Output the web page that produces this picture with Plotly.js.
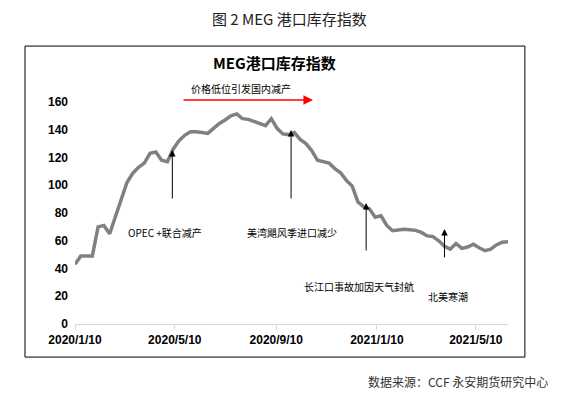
<!DOCTYPE html>
<html>
<head>
<meta charset="utf-8">
<script src="https://cdn.plot.ly/plotly-3.0.1.min.js"></script>
<style>
html,body{margin:0;padding:0;background:#fff;}
#chart{width:565px;height:396px;}
</style>
</head>
<body>
<div id="chart"></div>
<script>
// Weekly dates (Fridays)
const dates = [
 '2020-01-10','2020-01-17','2020-01-24','2020-01-31','2020-02-07','2020-02-14','2020-02-21','2020-02-28',
 '2020-03-06','2020-03-13','2020-03-20','2020-03-27','2020-04-03','2020-04-10','2020-04-17','2020-04-24',
 '2020-05-01','2020-05-08','2020-05-15','2020-05-22','2020-05-29','2020-06-05','2020-06-12','2020-06-19',
 '2020-06-26','2020-07-03','2020-07-10','2020-07-17','2020-07-24','2020-07-31','2020-08-07','2020-08-14',
 '2020-08-21','2020-08-28','2020-09-04','2020-09-11','2020-09-18','2020-09-25','2020-10-02','2020-10-09',
 '2020-10-16','2020-10-23','2020-10-30','2020-11-06','2020-11-13','2020-11-20','2020-11-27','2020-12-04',
 '2020-12-11','2020-12-18','2020-12-25','2021-01-01','2021-01-08','2021-01-15','2021-01-22','2021-01-29',
 '2021-02-05','2021-02-12','2021-02-19','2021-02-26','2021-03-05','2021-03-12','2021-03-19','2021-03-26',
 '2021-04-02','2021-04-09','2021-04-16','2021-04-23','2021-04-30','2021-05-07','2021-05-14','2021-05-21',
 '2021-05-28','2021-06-04','2021-06-11','2021-06-18'
];
// MEG port inventory index
const inventory = [
 43, 49, 49, 49, 70, 71, 65, 78,
 90, 102, 108.6, 113, 116, 123, 124, 118,
 117, 126, 132, 136, 138.5, 138.6, 138, 137.4,
 141, 144.6, 147, 150, 151.4, 148, 147.5, 146,
 145, 143, 148, 141, 137, 136.5, 138, 133,
 130, 125, 118, 117, 116, 112, 109, 103.5,
 99.5, 88, 84.5, 83, 77, 78, 71, 67.2,
 68, 68.3, 68, 67.5, 66, 63.5, 63, 60,
 56, 54, 58, 54.5, 55.5, 57.5, 55, 52.8,
 54, 57, 59, 59.3
];
const tickDates = ['2020-01-10','2020-05-10','2020-09-10','2021-01-10','2021-05-10'];
const tickLabels = ['2020/1/10','2020/5/10','2020/9/10','2021/1/10','2021/5/10'];
const yTicks = [0,20,40,60,80,100,120,140,160];

const chartTitle = 'MEG港口库存指数';
const figTitle = '图 2 MEG 港口库存指数';
const sourceText = '数据来源：CCF 永安期货研究中心';

// arrow events: [tip date, tip value, tail offset px, label, label x paper, label y paper]
const events = [
  ['2020-05-07', 125.4, 50, 'OPEC +联合减产', 0.208, 0.414],
  ['2020-09-28', 139.8, 70, '美湾飓风季进口减少', 0.501, 0.414],
  ['2020-12-28', 87.2, 49, '长江口事故加因天气封航', 0.655, 0.171],
  ['2021-04-02', 68.5, 30, '北美寒潮', 0.861, 0.126]
];

const CJK = '"Noto Sans CJK SC", "Microsoft YaHei", sans-serif';

const annotations = [];
events.forEach(e => {
  annotations.push({
    x: e[0], y: e[1], xref: 'x', yref: 'y', text: '', showarrow: true,
    ax: 0, ay: e[2], arrowhead: 2, arrowsize: 1.3, arrowwidth: 1, arrowcolor: '#000', standoff: 0
  });
  annotations.push({
    x: e[4], y: e[5], xref: 'paper', yref: 'paper', text: e[3], showarrow: false,
    font: {family: CJK, size: 10, color: '#000'}, xanchor: 'center', yanchor: 'middle'
  });
});
// red arrow (paper coords, above plot area)
annotations.push({
  x: 0.5497, y: 1.009, xref: 'paper', yref: 'paper',
  ax: -131, ay: 0, text: '', showarrow: true,
  arrowhead: 2, arrowsize: 1.2, arrowwidth: 1.6, arrowcolor: '#ff0000', standoff: 0
});
annotations.push({
  x: 0.383, y: 1.059, xref: 'paper', yref: 'paper', text: '价格低位引发国内减产', showarrow: false,
  font: {family: CJK, size: 10, color: '#000'}, xanchor: 'center', yanchor: 'middle'
});
annotations.push({
  x: 0.46, y: 1.176, xref: 'paper', yref: 'paper', text: '<b>' + chartTitle + '</b>', showarrow: false,
  font: {family: CJK, size: 15, color: '#000'}, xanchor: 'center', yanchor: 'middle'
});
annotations.push({
  x: 0.4965, y: 1.376, xref: 'paper', yref: 'paper', text: figTitle, showarrow: false,
  font: {family: CJK, size: 15, color: '#222'}, xanchor: 'center', yanchor: 'middle'
});
annotations.push({
  x: 1.097, y: -0.257, xref: 'paper', yref: 'paper', text: sourceText, showarrow: false,
  font: {family: CJK, size: 12, color: '#333'}, xanchor: 'right', yanchor: 'middle'
});

const trace = {
  x: dates, y: inventory, type: 'scatter', mode: 'lines',
  line: {color: '#808080', width: 3.5}, hoverinfo: 'skip'
};

const layout = {
  width: 565, height: 396,
  margin: {l: 75, r: 57, t: 102, b: 72},
  paper_bgcolor: '#fff', plot_bgcolor: '#fff',
  showlegend: false,
  xaxis: {
    type: 'date', range: ['2020-01-10', '2021-06-18'],
    tickvals: tickDates, ticktext: tickLabels,
    showgrid: false, zeroline: false,
    showline: true, linecolor: '#d9d9d9', linewidth: 1,
    ticks: 'outside', ticklen: 5, tickcolor: '#d9d9d9',
    tickfont: {family: 'Liberation Sans, Arial, sans-serif', size: 12, color: '#000', weight: 'bold'}
  },
  yaxis: {
    range: [0, 160], tickvals: yTicks,
    showgrid: false, zeroline: false, showline: false, ticks: '',
    ticklabelstandoff: 6,
    tickfont: {family: 'Liberation Sans, Arial, sans-serif', size: 12, color: '#000', weight: 'bold'}
  },
  shapes: [{
    type: 'rect', xref: 'paper', yref: 'paper',
    x0: -0.1155, x1: 1.039, y0: -0.149, y1: 1.252,
    line: {color: '#000', width: 1}, fillcolor: 'rgba(0,0,0,0)'
  }],
  annotations: annotations
};

Plotly.newPlot('chart', [trace], layout, {displayModeBar: false, staticPlot: true});
</script>
</body>
</html>
